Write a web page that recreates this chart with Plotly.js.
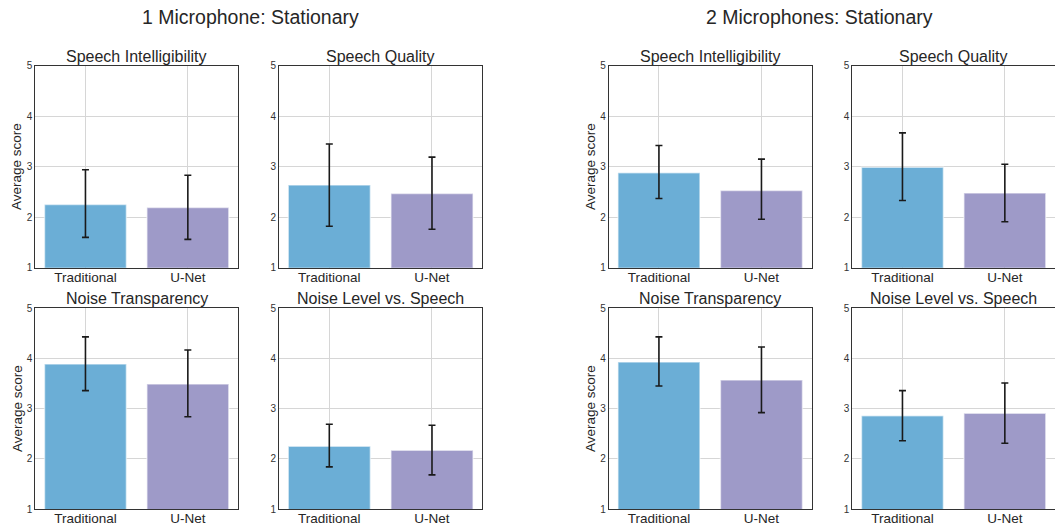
<!DOCTYPE html>
<html>
<head>
<meta charset="utf-8">
<script src="https://cdn.plot.ly/plotly-3.0.1.min.js"></script>
<style>html,body{margin:0;padding:0;background:#fff;}#chart{width:1055px;height:528px;}</style>
</head>
<body>
<div id="chart"></div>
<script>
// ---- data ----
const categories = ['Traditional', 'U-Net'];
const metrics = ['Speech Intelligibility', 'Speech Quality', 'Noise Transparency', 'Noise Level vs. Speech'];
const groupTitles = ['1 Microphone: Stationary', '2 Microphones: Stationary'];

// 1 microphone
const mic1Trad   = [2.25, 2.64, 3.89, 2.25];
const mic1TradHi = [2.94, 3.45, 4.43, 2.69];
const mic1TradLo = [1.60, 1.82, 3.36, 1.84];
const mic1Unet   = [2.19, 2.47, 3.49, 2.17];
const mic1UnetHi = [2.83, 3.19, 4.17, 2.67];
const mic1UnetLo = [1.56, 1.76, 2.84, 1.68];

// 2 microphones
const mic2Trad   = [2.88, 2.99, 3.93, 2.86];
const mic2TradHi = [3.42, 3.67, 4.43, 3.36];
const mic2TradLo = [2.37, 2.33, 3.45, 2.36];
const mic2Unet   = [2.53, 2.48, 3.57, 2.91];
const mic2UnetHi = [3.15, 3.05, 4.23, 3.51];
const mic2UnetLo = [1.96, 1.91, 2.92, 2.31];

const yTicks = [1, 2, 3, 4, 5];
const barColors = ['#6baed6', '#9e9ac8'];

// ---- layout geometry ----
const W = 1055, H = 528;
const colDomains = [
  [35.3 / W, 238 / W],
  [279 / W, 482.3 / W],
  [608.7 / W, 811.7 / W],
  [852.3 / W, 1.0]
];
const rowDomains = [
  [1 - 267.7 / H, 1 - 65.7 / H],  // top
  [1 - 509 / H, 1 - 308.3 / H]    // bottom
];

const groups = [
  {trad: mic1Trad, tradHi: mic1TradHi, tradLo: mic1TradLo, unet: mic1Unet, unetHi: mic1UnetHi, unetLo: mic1UnetLo, cols: [0, 1]},
  {trad: mic2Trad, tradHi: mic2TradHi, tradLo: mic2TradLo, unet: mic2Unet, unetHi: mic2UnetHi, unetLo: mic2UnetLo, cols: [2, 3]}
];
// metric index -> [row, colOffset]
const metricPos = [[0, 0], [0, 1], [1, 0], [1, 1]];

const traces = [];
const layout = {
  width: W, height: H,
  margin: {l: 0, r: 0, t: 0, b: 0},
  paper_bgcolor: '#ffffff',
  plot_bgcolor: '#ffffff',
  showlegend: false,
  font: {family: 'Liberation Sans, Arial, sans-serif', color: '#262626'},
  annotations: [],
  bargap: 0.2
};

let axN = 0;
groups.forEach((g, gi) => {
  metrics.forEach((m, mi) => {
    axN++;
    const [row, co] = metricPos[mi];
    const col = g.cols[co];
    const xa = axN === 1 ? 'xaxis' : 'xaxis' + axN;
    const ya = axN === 1 ? 'yaxis' : 'yaxis' + axN;
    const xr = axN === 1 ? 'x' : 'x' + axN;
    const yr = axN === 1 ? 'y' : 'y' + axN;
    const means = [g.trad[mi], g.unet[mi]];
    const plus = [g.tradHi[mi] - g.trad[mi], g.unetHi[mi] - g.unet[mi]];
    const minus = [g.trad[mi] - g.tradLo[mi], g.unet[mi] - g.unetLo[mi]];
    traces.push({
      type: 'bar',
      x: categories,
      y: means,
      base: 0,
      xaxis: xr, yaxis: yr,
      width: 0.8,
      marker: {color: barColors, line: {color: 'rgba(255,255,255,0.55)', width: 1.5}},
      error_y: {type: 'data', symmetric: false, array: plus, arrayminus: minus,
                color: '#1a1a1a', thickness: 1.6, width: 3.5},
      hoverinfo: 'x+y'
    });
    layout[xa] = {
      domain: colDomains[col],
      anchor: yr,
      type: 'category',
      range: [-0.49, 1.49],
      showgrid: true, gridcolor: '#d6d6d6', gridwidth: 1,
      showline: true, linecolor: '#333333', linewidth: 1, mirror: true,
      ticks: '', ticklabelstandoff: -3,
      tickfont: {size: 13.5, color: '#262626'},
      zeroline: false, fixedrange: true
    };
    layout[ya] = {
      domain: rowDomains[row],
      anchor: xr,
      range: [1, 5],
      tickvals: yTicks,
      ticktext: yTicks.map(String),
      showgrid: true, gridcolor: '#d6d6d6', gridwidth: 1,
      showline: true, linecolor: '#333333', linewidth: 1, mirror: true,
      ticks: '', tickfont: {size: 10, color: '#333333'},
      zeroline: false, fixedrange: true
    };
    if (co === 0) {
      layout[ya].title = {text: 'Average score', font: {size: 13.5, color: '#262626'}, standoff: 1};
    }
    const dom = colDomains[col];
    layout.annotations.push({
      text: m, xref: 'paper', yref: 'paper',
      x: (dom[0] + dom[1]) / 2, y: rowDomains[row][1],
      xanchor: 'center', yanchor: 'bottom', showarrow: false, yshift: -1,
      font: {size: 16, color: '#262626'}
    });
  });
  layout.annotations.push({
    text: groupTitles[gi], xref: 'paper', yref: 'paper',
    x: gi === 0 ? 251 / W : 819 / W, y: 1 - 17 / H,
    xanchor: 'center', yanchor: 'middle', showarrow: false,
    font: {size: 19.5, color: '#262626'}
  });
});

Plotly.newPlot('chart', traces, layout, {displayModeBar: false, staticPlot: true});
</script>
</body>
</html>
